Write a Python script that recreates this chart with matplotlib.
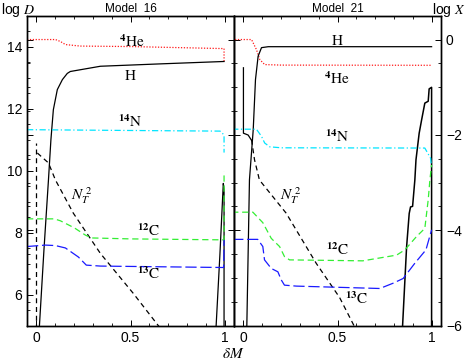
import matplotlib
matplotlib.use('Agg')
import matplotlib.pyplot as plt
from matplotlib.ticker import MultipleLocator

plt.rcParams['mathtext.fontset'] = 'stix'
plt.rcParams['font.family'] = ['Liberation Sans', 'DejaVu Sans']

# ---- Model 16 (left panel) ----
# abundances, log X
m16_h_x = [0.016, 0.040, 0.064, 0.077, 0.090, 0.111, 0.138, 0.164, 0.180, 0.340, 0.660, 0.997]
m16_h_y = [-6.0, -4.41, -2.94, -2.10, -1.47, -1.05, -0.84, -0.71, -0.67, -0.56, -0.51, -0.46]
m16_he_x = [-0.05, 0.101, 0.127, 0.154, 0.233, 0.499, 0.997, 0.997]
m16_he_y = [0.0, 0.0, -0.04, -0.105, -0.137, -0.147, -0.19, -0.47]
m16_n14_x = [-0.05, 0.605, 0.976, 0.997, 0.997]
m16_n14_y = [-1.89, -1.91, -1.92, -2.0, -2.37]
m16_c12_x = [-0.05, 0.095, 0.127, 0.202, 0.260, 0.292, 0.499, 0.992, 0.997, 0.997]
m16_c12_y = [-3.76, -3.76, -3.80, -3.95, -4.10, -4.16, -4.18, -4.20, -4.20, -2.77]
m16_c13_x = [-0.05, 0.048, 0.101, 0.154, 0.223, 0.265, 0.340, 0.995, 0.997]
m16_c13_y = [-4.34, -4.31, -4.32, -4.37, -4.56, -4.73, -4.75, -4.78, -4.20]
# log D
m16_nt_x = [0.005, 0.064, 0.101, 0.196, 0.340, 0.515, 0.653]
m16_nt_y = [10.57, 10.25, 9.70, 8.63, 7.33, 6.04, 4.96]
m16_core_x = [0.0, 0.0]
m16_core_y = [4.9, 10.9]
m16_d_x = [0.954, 0.975, 0.993, 0.997, 0.997]
m16_d_y = [4.9, 7.3, 9.59, 9.4, 4.9]

# ---- Model 21 (right panel) ----
m21_h_x = [0.018, 0.032, 0.052, 0.064, 0.078, 0.096, 0.132, 1.0]
m21_h_y = [-6.0, -2.94, -1.89, -0.84, -0.35, -0.17, -0.15, -0.15]
m21_he_x = [-0.06, 0.043, 0.069, 0.087, 0.113, 0.202, 1.0]
m21_he_y = [0.0, 0.0, -0.21, -0.42, -0.525, -0.536, -0.54]
m21_n14_x = [-0.06, 0.069, 0.096, 0.113, 0.140, 0.202, 0.964, 0.995, 1.0]
m21_n14_y = [-1.88, -1.88, -2.03, -2.17, -2.25, -2.27, -2.275, -2.49, -2.7]
m21_c12_x = [-0.06, 0.050, 0.103, 0.148, 0.192, 0.218, 0.245, 0.634, 0.814, 0.858, 0.920,
             0.964, 0.982, 0.991, 1.0]
m21_c12_y = [-3.62, -3.62, -3.84, -4.17, -4.34, -4.55, -4.62, -4.64, -4.52, -4.41, -4.13,
             -3.96, -3.36, -2.94, -2.63]
m21_c13_x = [-0.06, 0.076, 0.103, 0.112, 0.148, 0.183, 0.201, 0.218, 0.281, 0.725, 0.795,
             0.849, 0.911, 0.970, 1.0]
m21_c13_y = [-4.19, -4.19, -4.34, -4.62, -4.80, -4.87, -5.04, -5.15, -5.17, -5.22, -5.11,
             -5.01, -4.69, -4.41, -3.99]
m21_nt_x = [0.043, 0.059, 0.085, 0.227, 0.387, 0.511, 0.591]
m21_nt_y = [11.0, 10.35, 9.70, 8.63, 7.01, 5.91, 4.96]
m21_core_x = [0.0, 0.0, 0.025, 0.043]
m21_core_y = [13.32, 11.21, 11.15, 10.98]
m21_d_x = [0.845, 0.867, 0.881, 0.888, 0.899, 0.911, 0.917, 0.934, 0.947, 0.964, 0.982,
           0.987, 1.0, 1.0]
m21_d_y = [4.9, 7.53, 8.62, 8.83, 8.85, 9.70, 10.35, 11.21, 11.64, 12.18, 12.24,
           12.64, 12.69, 4.9]

RED = '#ff1a1a'
CYAN = '#00e5ff'
GREEN = '#33ee33'
BLUE = '#1a1aff'
lw = 0.9


def style_axes(ax, axt, show_left, show_right):
    ax.set_xlim(-0.05, 1.05)
    ax.set_ylim(5, 15)
    axt.set_ylim(-6, 0.5)
    ax.xaxis.set_minor_locator(MultipleLocator(0.1))
    ax.set_xticks([0, 0.5, 1])
    ax.set_xticklabels(['0', '0.5', '1'])
    ax.yaxis.set_major_locator(MultipleLocator(2))
    ax.yaxis.set_minor_locator(MultipleLocator(0.5))
    axt.yaxis.set_major_locator(MultipleLocator(2))
    axt.yaxis.set_minor_locator(MultipleLocator(0.5))
    ax.tick_params(which='both', direction='in', top=True, right=False, left=show_left,
                   labelleft=show_left, labelsize=10)
    ax.tick_params(which='major', length=4.5, width=0.7)
    ax.tick_params(which='minor', length=2.5, width=0.6)
    axt.tick_params(which='both', direction='in', left=True, right=True,
                    labelleft=False, labelright=show_right, labelsize=10)
    axt.tick_params(which='major', length=4.5, width=0.7)
    axt.tick_params(which='minor', length=2.5, width=0.6)
    for a in (ax, axt):
        for s in a.spines.values():
            s.set_linewidth(1.0)


def label(axt, x, y, txt):
    axt.text(x, y, txt, ha='center', va='center', fontsize=11, family='STIXGeneral')


fig = plt.figure(figsize=(4.69, 3.6), dpi=100)
ax1 = fig.add_axes([0.0576, 0.0953, 0.4414, 0.8611])
ax2 = fig.add_axes([0.4990, 0.0953, 0.4413, 0.8611])
ax1t = ax1.twinx()
ax2t = ax2.twinx()

# left panel
ax1t.plot(m16_he_x, m16_he_y, color=RED, lw=lw, ls=(0, (1, 1.3)))
ax1t.plot(m16_h_x, m16_h_y, color='black', lw=lw)
ax1t.plot(m16_n14_x, m16_n14_y, color=CYAN, lw=lw, ls=(0, (5, 2, 1, 2)))
ax1t.plot(m16_c12_x, m16_c12_y, color=GREEN, lw=lw, ls=(0, (5, 3)))
ax1t.plot(m16_c13_x, m16_c13_y, color=BLUE, lw=lw, ls=(0, (9, 3)))
ax1.plot(m16_nt_x, m16_nt_y, color='black', lw=lw, ls=(0, (4, 3)))
ax1.plot(m16_core_x, m16_core_y, color='black', lw=lw, ls=(0, (4, 3)))
ax1.plot(m16_d_x, m16_d_y, color='black', lw=lw)

# right panel
ax2t.plot(m21_he_x, m21_he_y, color=RED, lw=lw, ls=(0, (1, 1.3)))
ax2t.plot(m21_h_x, m21_h_y, color='black', lw=lw)
ax2t.plot(m21_n14_x, m21_n14_y, color=CYAN, lw=lw, ls=(0, (5, 2, 1, 2)))
ax2t.plot(m21_c12_x, m21_c12_y, color=GREEN, lw=lw, ls=(0, (5, 3)))
ax2t.plot(m21_c13_x, m21_c13_y, color=BLUE, lw=lw, ls=(0, (9, 3)))
ax2.plot(m21_nt_x, m21_nt_y, color='black', lw=lw, ls=(0, (4, 3)))
ax2.plot(m21_core_x, m21_core_y, color='black', lw=lw)
ax2.plot(m21_d_x, m21_d_y, color='black', lw=1.1)

style_axes(ax1, ax1t, True, False)
style_axes(ax2, ax2t, False, True)
ax2t.set_yticks([0, -2, -4, -6])
ax2t.set_yticklabels(['0', '\u22122', '\u22124', '\u22126'])

# curve labels
label(ax1t, 0.508, -0.04, r'$^{\mathbf{4}}$He')
label(ax1t, 0.499, -0.78, 'H')
label(ax1t, 0.499, -1.72, r'$^{\mathbf{14}}$N')
label(ax1t, 0.596, -4.0, r'$^{\mathbf{12}}$C')
label(ax1t, 0.596, -4.9, r'$^{\mathbf{13}}$C')
ax1.text(0.242, 9.21, r'$N_T^{\ 2}$', ha='center', va='center', fontsize=11)

label(ax2t, 0.499, -0.04, 'H')
label(ax2t, 0.494, -0.82, r'$^{\mathbf{4}}$He')
label(ax2t, 0.497, -2.03, r'$^{\mathbf{14}}$N')
label(ax2t, 0.503, -4.41, r'$^{\mathbf{12}}$C')
label(ax2t, 0.600, -5.43, r'$^{\mathbf{13}}$C')
ax2.text(0.25, 9.21, r'$N_T^{\ 2}$', ha='center', va='center', fontsize=11)

ax1.set_title('Model  16', fontsize=8.5, pad=2.5)
ax2.set_title('Model  21', fontsize=8.5, pad=2.5)
fig.text(0.002, 0.972, r'log $D$', ha='left', va='center', fontsize=10)
fig.text(0.922, 0.972, r'log $X$', ha='left', va='center', fontsize=10)
fig.text(0.497, 0.018, r'$\delta M$', ha='center', va='center', fontsize=11)

fig.savefig('out.png', dpi=100)
